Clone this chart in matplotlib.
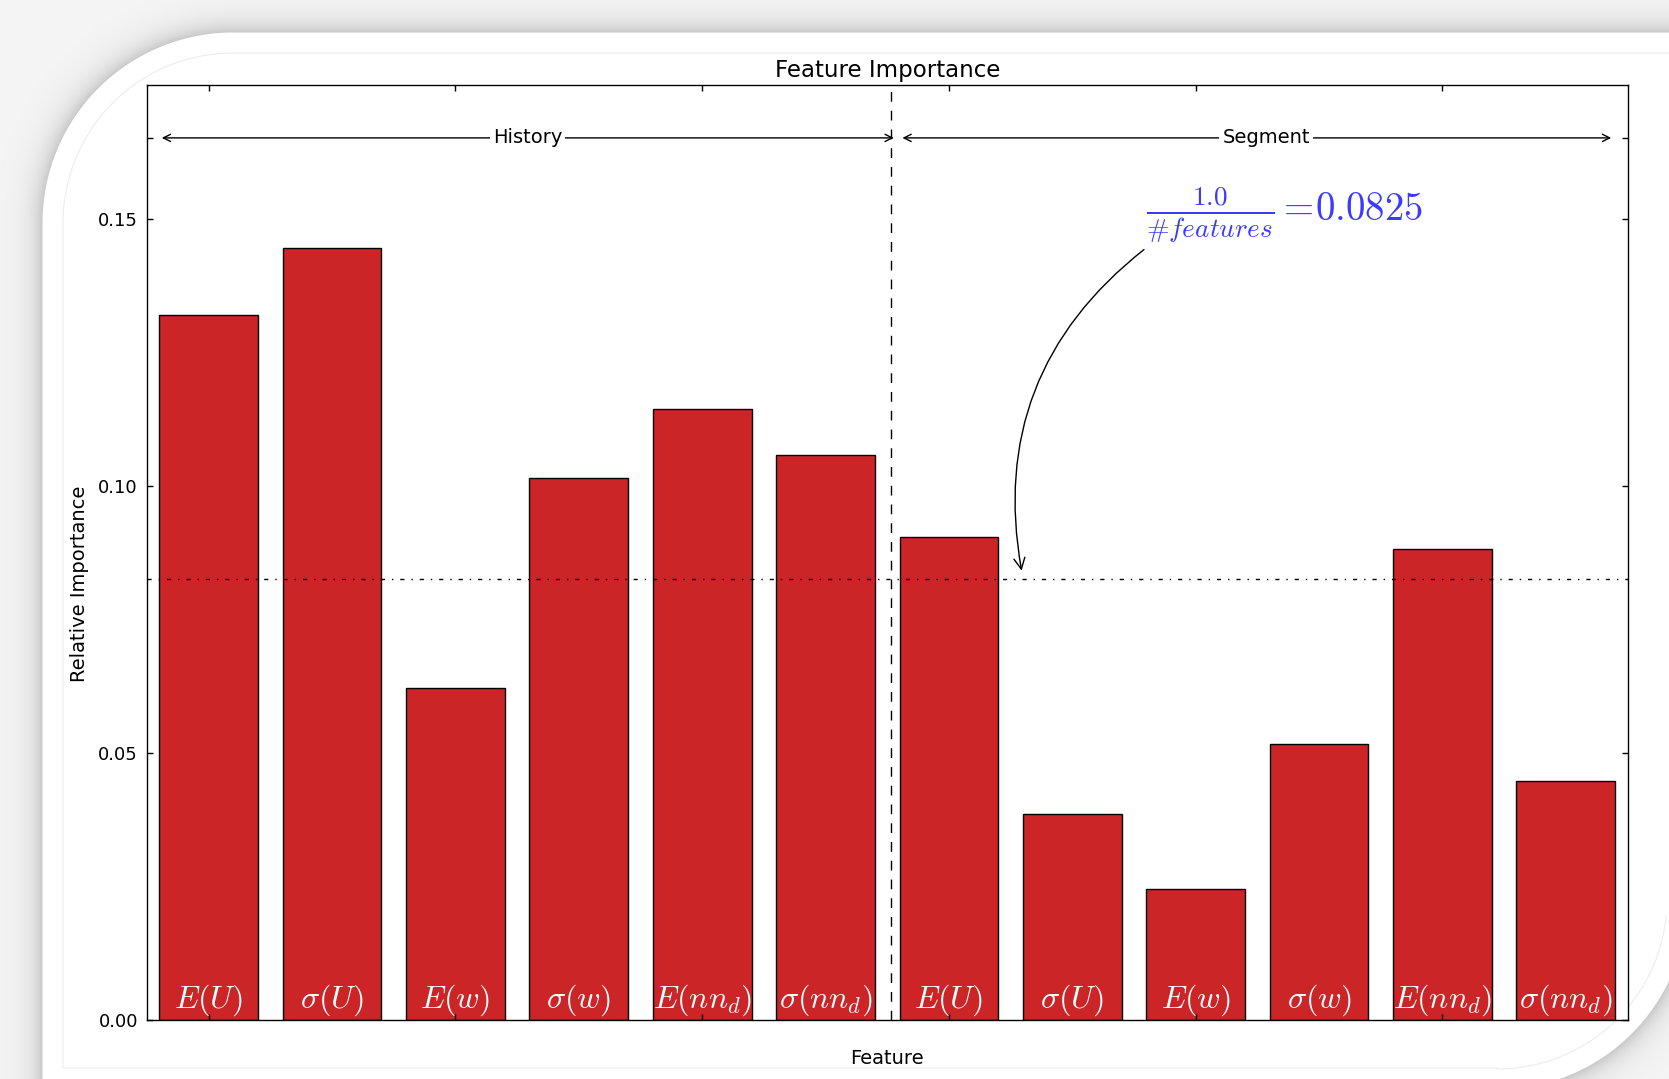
import numpy as np
import matplotlib.pyplot as plt
from matplotlib.path import Path
from matplotlib.patches import PathPatch
from matplotlib.mathtext import MathTextParser

plt.rcParams['mathtext.fontset'] = 'cm'

# feature importances, history features first then segment features
features = [r'$E(U)$', r'$\sigma(U)$', r'$E(w)$', r'$\sigma(w)$',
            r'$E(nn_d)$', r'$\sigma(nn_d)$'] * 2
importance = [0.1319, 0.1445, 0.0621, 0.1014, 0.1144, 0.1058,
              0.0904, 0.0385, 0.0246, 0.0517, 0.0882, 0.0447]
uniform_level = 0.0825

groups = ['History', 'Segment']
group_spans = [(-0.38, 5.553), (5.623, 11.368)]
group_label_x = [2.585, 8.57]
group_y = 0.1651
split_x = 5.53

W, H = 1669, 1079
fig = plt.figure(figsize=(W / 100, H / 100), dpi=100, facecolor='white')

# picture frame: white rounded card with a soft grey shadow
bg = fig.add_axes([0, 0, 1, 1], zorder=-5)
yy, xx = np.mgrid[0:H, 0:W] + 0.5
left, top, right, bottom, r = 43, 33, 1687, 1089, 190
tl = (left + r, top + r)
br = (right - r, bottom - r)
dist = np.maximum.reduce([left - xx, top - yy, xx - right, yy - bottom])
in_tl = (xx < tl[0]) & (yy < tl[1])
in_br = (xx > br[0]) & (yy > br[1])
dist = np.where(in_tl, np.hypot(xx - tl[0], yy - tl[1]) - r, dist)
dist = np.where(in_br, np.hypot(xx - br[0], yy - br[1]) - r, dist)
shade = 0.96 - 0.18 * np.exp(-np.clip(dist, 0, None) / 12.0)
alpha = np.clip(dist, 0, 1)
gray = 1.0 * (1 - alpha) + shade * alpha
bg.imshow(np.dstack([gray] * 3), extent=(0, W, H, 0), interpolation='bilinear')

# faint inner border
ri = r - 20
t1 = np.linspace(np.pi, 1.5 * np.pi, 40)
t2 = np.linspace(0.5 * np.pi, 0.03 * np.pi, 40)
pts = [(W, tl[1] - ri)]
pts += list(zip(tl[0] + ri * np.cos(t1[::-1]), tl[1] + ri * np.sin(t1[::-1])))
pts += [(left + 20, 1068), (br[0], 1068)]
pts += list(zip(br[0] + ri * np.cos(t2), br[1] + ri * np.sin(t2)))
bg.add_patch(PathPatch(Path(pts), fill=False, ec='#ececec', lw=0.8))
bg.set_xlim(0, W)
bg.set_ylim(H, 0)
bg.axis('off')

ax = fig.add_axes([147 / W, 1 - 1020 / H, 1480.5 / W, 935 / H])
x = np.arange(len(importance))
ax.bar(x, importance, width=0.8, color='#cb2527', edgecolor='black', linewidth=1)

for xi, name in zip(x, features):
    ax.text(xi, 0.0003, name, color='white', fontsize=23, ha='center', va='bottom')

ax.axhline(uniform_level, color='black', lw=1, linestyle=(0, (3, 5, 1, 5)))
ax.axvline(split_x, color='black', lw=1, linestyle=(0, (7, 6.5)))

for name, (x0, x1), tx in zip(groups, group_spans, group_label_x):
    ax.annotate('', xy=(x0, group_y), xytext=(x1, group_y),
                arrowprops=dict(arrowstyle='<->', lw=1, color='black',
                                mutation_scale=13, shrinkA=0, shrinkB=0))
    ax.text(tx, group_y, name, fontsize=14, ha='center', va='center',
            bbox=dict(boxstyle='square,pad=0.15', fc='white', ec='none'))

ax.annotate('', xy=(6.589, 0.0841), xytext=(7.581, 0.1442),
            arrowprops=dict(arrowstyle='->', lw=1, color='black', mutation_scale=20,
                            shrinkA=0, shrinkB=0, connectionstyle='arc3,rad=0.3'))

# pick a spelling of the '#' sign that mathtext accepts
parser = MathTextParser('path')
frac = None
for den in [r'\#features', '#features', r'\mathit{\#features}', r'\#\mathit{features}']:
    cand = r'$\frac{1.0}{%s}$' % den
    try:
        parser.parse(cand)
        frac = cand
        break
    except ValueError:
        pass
if frac is None:
    frac = r'$\frac{1.0}{N_{features}}$'
ax.text(7.6, 0.1508, frac + r'$=$$\!%.4f$' % uniform_level,
        color='#3b3bff', fontsize=28, ha='left', va='center')

ax.set_xlim(-0.5, 11.5)
ax.set_ylim(0, 0.175)
ax.set_xticks(np.arange(0, 12, 2))
ax.set_xticklabels([])
ax.set_yticks([0, 0.05, 0.10, 0.15])
ax.set_yticklabels(['0.00', '0.05', '0.10', '0.15'])
ax.set_yticks([group_y], minor=True)
ax.tick_params(which='both', direction='in', top=True, right=True,
               length=4, width=1, labelsize=13, pad=6.5)
for s in ax.spines.values():
    s.set_linewidth(1)

ax.set_title('Feature Importance', fontsize=16.5, pad=6)
ax.set_xlabel('Feature', fontsize=14, labelpad=14.5)
ax.set_ylabel('Relative Importance', fontsize=14)
ax.yaxis.set_label_coords(-0.039, 0.467)

plt.savefig('out.png', dpi=100)
